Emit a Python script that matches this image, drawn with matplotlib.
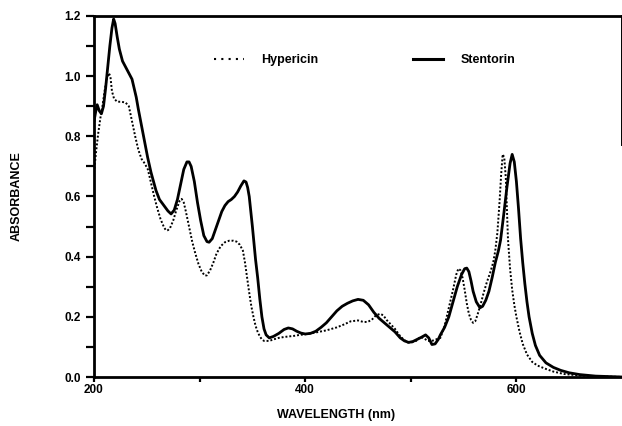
import numpy as np
import matplotlib.pyplot as plt
from matplotlib.lines import Line2D
from matplotlib.ticker import MultipleLocator, FixedLocator

plt.rcParams['font.family'] = ['Liberation Sans', 'DejaVu Sans']
plt.rcParams['font.weight'] = 'bold'

# --- data (nm, absorbance) ---
hyp_nm = [200, 202, 204, 206, 208, 210, 212, 214, 215.5, 217, 219, 222, 226, 230, 233,
          236, 239, 242, 245, 248, 251, 254, 257, 260, 263, 266, 268, 270, 272, 275,
          278, 281, 283, 285, 287, 290, 293, 296, 299, 302, 305, 307, 310, 313, 316,
          320, 324, 328, 332, 335, 338, 341, 343, 345, 347, 349, 351, 353, 355, 357,
          359, 361, 366, 370, 375, 380, 385, 390, 395, 400, 410, 420, 430, 437, 443,
          450, 455, 459, 463, 467, 471, 474, 477, 481, 485, 489, 493, 497, 501, 505,
          509, 512, 516, 520, 524, 528, 532, 536, 540, 543, 545, 547, 549, 551, 553,
          555, 557, 559, 561, 563, 566, 569, 572, 575, 578, 580, 582, 584, 585.5, 587,
          588.5, 590, 592, 594, 596, 598, 600, 603, 606, 610, 615, 620, 627, 635, 645,
          660, 680, 700]
hyp_abs = [0.68, 0.75, 0.81, 0.86, 0.90, 0.95, 0.99, 1.01, 1.00, 0.95, 0.925, 0.915, 0.915, 0.912, 0.90,
           0.85, 0.80, 0.755, 0.725, 0.71, 0.69, 0.645, 0.60, 0.56, 0.525, 0.50, 0.488, 0.488, 0.495, 0.52,
           0.555, 0.585, 0.592, 0.58, 0.55, 0.50, 0.45, 0.41, 0.375, 0.35, 0.337, 0.338, 0.355, 0.38, 0.41,
           0.435, 0.448, 0.453, 0.453, 0.45, 0.44, 0.42, 0.38, 0.33, 0.28, 0.235, 0.20, 0.17, 0.15, 0.135,
           0.125, 0.12, 0.12, 0.125, 0.13, 0.133, 0.135, 0.137, 0.14, 0.142, 0.148, 0.155, 0.165, 0.175, 0.185,
           0.188, 0.183, 0.183, 0.19, 0.205, 0.21, 0.205, 0.19, 0.175, 0.16, 0.14, 0.125, 0.115, 0.115, 0.12,
           0.133, 0.13, 0.12, 0.12, 0.125, 0.13, 0.17, 0.23, 0.29, 0.34, 0.36, 0.355, 0.33, 0.29, 0.245,
           0.21, 0.19, 0.18, 0.185, 0.205, 0.24, 0.28, 0.315, 0.345, 0.38, 0.42, 0.48, 0.58, 0.67, 0.74,
           0.73, 0.66, 0.46, 0.36, 0.29, 0.24, 0.20, 0.15, 0.11, 0.075, 0.05, 0.038, 0.028, 0.018, 0.01,
           0.005, 0.002, 0.0]

sten_nm = [200, 201.5, 203, 205, 207, 209, 211, 213, 215, 217, 218.6, 220, 222, 224, 227,
           230, 233, 236, 238, 240, 242, 244.5, 247, 250.8, 254, 258.7, 262, 266.6, 270, 273,
           276, 279, 282, 285, 288, 290, 292, 295, 298, 301, 304, 307, 309, 312, 315,
           318, 321, 324, 327, 330, 333, 336, 339, 342, 344, 345.5, 347, 350, 353, 355,
           357, 359, 361, 363, 366, 370, 375, 380, 384, 388, 392, 396, 400, 405, 410,
           415, 420, 425, 430, 435, 440, 445, 450, 455, 460, 465, 470, 475, 480, 485,
           490, 494, 498, 502, 506, 510, 514, 517, 520, 523, 526, 528, 532, 536, 540,
           544, 548, 551, 553, 555, 557, 559, 562, 565.5, 568, 571, 574, 577, 580, 583,
           585, 588, 591, 594, 596, 598, 600, 602, 604, 606, 608, 610, 612, 615, 618,
           622, 628, 635, 642, 650, 660, 675, 700]
sten_abs = [0.85, 0.88, 0.905, 0.885, 0.875, 0.90, 0.96, 1.03, 1.10, 1.16, 1.19, 1.175, 1.13, 1.09, 1.05,
            1.03, 1.01, 0.99, 0.96, 0.93, 0.89, 0.845, 0.80, 0.73, 0.68, 0.62, 0.59, 0.568, 0.552, 0.542,
            0.555, 0.59, 0.64, 0.69, 0.715, 0.715, 0.70, 0.65, 0.58, 0.52, 0.47, 0.45, 0.448, 0.46, 0.49,
            0.52, 0.55, 0.57, 0.583, 0.59, 0.60, 0.615, 0.635, 0.652, 0.648, 0.63, 0.60, 0.50, 0.39, 0.33,
            0.26, 0.20, 0.16, 0.14, 0.13, 0.135, 0.145, 0.158, 0.163, 0.16, 0.152, 0.146, 0.143, 0.145, 0.152,
            0.165, 0.18, 0.20, 0.22, 0.235, 0.245, 0.253, 0.258, 0.255, 0.24, 0.215, 0.195, 0.18, 0.165, 0.15,
            0.13, 0.12, 0.115, 0.118, 0.125, 0.132, 0.14, 0.13, 0.108, 0.11, 0.125, 0.14, 0.165, 0.20, 0.25,
            0.30, 0.34, 0.36, 0.362, 0.35, 0.32, 0.285, 0.25, 0.23, 0.235, 0.255, 0.285, 0.33, 0.38, 0.42,
            0.455, 0.54, 0.63, 0.71, 0.74, 0.715, 0.65, 0.56, 0.46, 0.38, 0.31, 0.25, 0.20, 0.145, 0.105,
            0.072, 0.047, 0.032, 0.022, 0.014, 0.008, 0.003, 0.0]

y_ticks = [0.0, 0.2, 0.4, 0.6, 0.8, 1.0, 1.2]
y_labels = ['0.0', '0.2', '0.4', '0.6', '0.8', '1.0', '1.2']
x_ticks = [200, 400, 600]
x_labels = ['200', '400', '600']

fig = plt.figure(figsize=(6.22, 4.26), dpi=100)
ax = fig.add_axes([94 / 622, 49 / 426, 528 / 622, 361 / 426])

ax.plot(hyp_nm, hyp_abs, color='black', lw=1.4, ls=(0, (1, 1)))
ax.plot(sten_nm, sten_abs, color='black', lw=2.0, solid_capstyle='round')

ax.set_xlim(200, 700)
ax.set_ylim(0, 1.2)

# axes frame: left, bottom, top heavy; right only partly drawn as in the scan
for side in ['left', 'bottom', 'top']:
    ax.spines[side].set_linewidth(2.0)
ax.spines['right'].set_linewidth(1.4)
ax.spines['right'].set_bounds(0.77, 1.2)

ax.set_yticks(y_ticks)
ax.set_yticklabels(y_labels)
ax.yaxis.set_minor_locator(MultipleLocator(0.1))
ax.set_xticks(x_ticks)
ax.set_xticklabels(x_labels)
ax.xaxis.set_minor_locator(FixedLocator([300, 500]))

ax.tick_params(axis='y', which='both', direction='out', length=6, width=1.6,
               labelsize=8.5, pad=3.5, right=False)
ax.tick_params(axis='x', which='both', direction='out', length=3.5, width=1.6,
               labelsize=8.5, pad=1.5, top=False)

ax.set_xlabel('WAVELENGTH (nm)', fontsize=9, fontweight='bold')
ax.xaxis.set_label_coords(0.458, -0.088)
ax.set_ylabel('ABSORBANCE', fontsize=9, fontweight='bold')
ax.yaxis.set_label_coords(-0.135, 0.5)

handles = [Line2D([], [], color='black', lw=1.5, ls=(0, (1, 2.5))),
           Line2D([], [], color='black', lw=2.2)]
ax.legend(handles, ['Hypericin', 'Stentorin'], ncol=2, frameon=False,
          loc='center left', bbox_to_anchor=(0.227, 0.878), borderpad=0,
          borderaxespad=0, handlelength=2.4, handletextpad=1.4,
          columnspacing=7.6, prop={'size': 9, 'weight': 'bold'})

fig.savefig('out.png', dpi=100)
